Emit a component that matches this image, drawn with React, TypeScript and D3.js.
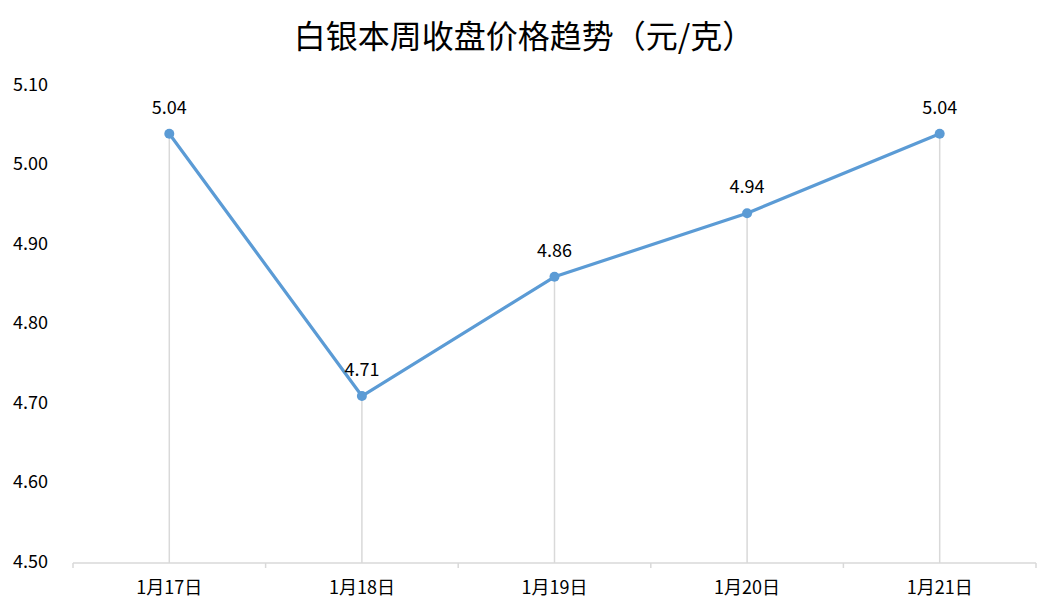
import React from "react";
import * as d3 from "d3";

const categories = ["1月17日", "1月18日", "1月19日", "1月20日", "1月21日"];
const prices = [5.04, 4.71, 4.86, 4.94, 5.04];
const yTicks = [4.5, 4.6, 4.7, 4.8, 4.9, 5.0, 5.1];
const title = "白银本周收盘价格趋势（元/克）";

const W = 1059;
const H = 616;
const FONT = "'Noto Sans CJK SC', 'Noto Sans', sans-serif";

export default function App() {
  const x = d3.scaleBand<string>().domain(categories).range([73, 1036]);
  const y = d3.scaleLinear().domain([4.5, 5.1]).range([563, 86]);
  const cx = (c: string) => (x(c) as number) + x.bandwidth() / 2;
  const line = d3
    .line<number>()
    .x((_, i) => cx(categories[i]))
    .y((d) => y(d));
  const bounds = [...categories.map((c) => x(c) as number), 1036];

  return (
    <svg
      width={W}
      height={H}
      style={{ position: "absolute", left: 0, top: 0, background: "#fff" }}
      fontFamily={FONT}
    >
      <rect width={W} height={H} fill="#fff" />
      <text x={524} y={39} textAnchor="middle" dominantBaseline="middle" fontSize={32} fill="#000">
        {title}
      </text>
      {yTicks.map((t) => (
        <text key={t} x={48} y={y(t)} textAnchor="end" dominantBaseline="middle" fontSize={18} fill="#000">
          {t.toFixed(2)}
        </text>
      ))}
      {categories.map((c, i) => (
        <line
          key={"d" + c}
          x1={cx(c)}
          x2={cx(c)}
          y1={y(prices[i])}
          y2={y(4.5)}
          stroke="#d9d9d9"
          strokeWidth={1.5}
        />
      ))}
      <line x1={73} x2={1036} y1={y(4.5)} y2={y(4.5)} stroke="#d9d9d9" strokeWidth={1.5} />
      {bounds.map((b, i) => (
        <line key={"t" + i} x1={b} x2={b} y1={y(4.5)} y2={y(4.5) + 5} stroke="#d9d9d9" strokeWidth={1.5} />
      ))}
      {categories.map((c) => (
        <text key={"x" + c} x={cx(c)} y={589} textAnchor="middle" dominantBaseline="middle" fontSize={18} fill="#000">
          {c}
        </text>
      ))}
      <path d={line(prices) || ""} fill="none" stroke="#5b9bd5" strokeWidth={3.2} strokeLinejoin="round" />
      {categories.map((c, i) => (
        <circle key={"p" + c} cx={cx(c)} cy={y(prices[i])} r={5} fill="#5b9bd5" />
      ))}
      {categories.map((c, i) => (
        <text
          key={"l" + c}
          x={cx(c)}
          y={y(prices[i]) - 25}
          textAnchor="middle"
          dominantBaseline="middle"
          fontSize={18}
          fill="#000"
        >
          {prices[i].toFixed(2)}
        </text>
      ))}
    </svg>
  );
}
